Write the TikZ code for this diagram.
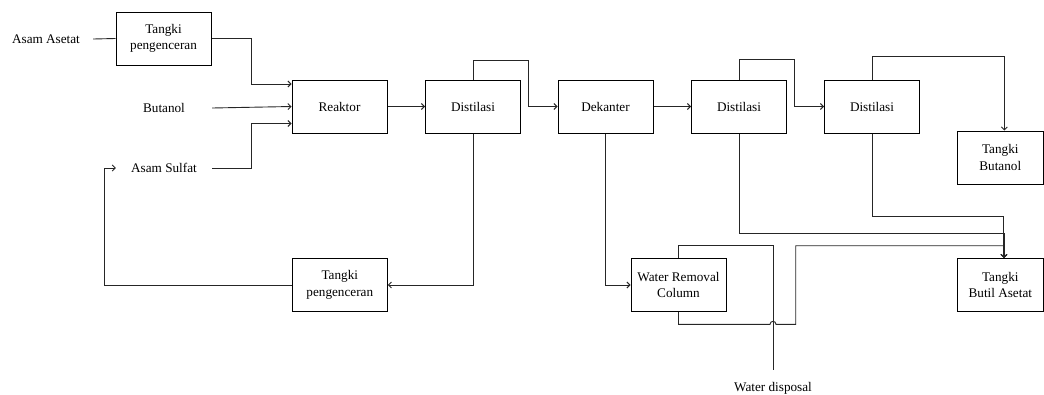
\documentclass[tikz,border=0pt]{standalone}
\usepackage{fontspec}
\setmainfont{Liberation Serif}
\usetikzlibrary{arrows.meta}
\begin{document}
\begin{tikzpicture}[x=1pt,y=-1pt,
  font=\fontsize{13.2}{16.5}\selectfont,
  box/.style={draw=black, line width=1pt, rectangle, minimum width=95pt, minimum height=53pt, align=center, inner sep=1pt},
  lbl/.style={inner sep=0pt, align=center},
  ln/.style={draw=black!85, line width=0.9pt},
  arr/.style={ln, -{Straight Barb[length=3pt,width=6pt]}}]
\useasboundingbox (0,0) rectangle (1044,394);
% nodes
\node[lbl, minimum width=94pt] (AA) at (46,39) {Asam Asetat};
\node[lbl, minimum width=96pt] (Bu) at (164,108) {Butanol};
\node[lbl, minimum width=96pt] (AS) at (164,168) {Asam Sulfat};
\node[box] (T1) at (163.5,38.5) {Tangki\\pengenceran};
\node[box] (R) at (339.5,106.5) {Reaktor};
\node[box] (D1) at (473,106.5) {Distilasi};
\node[box] (Dek) at (605.5,106.5) {Dekanter};
\node[box] (D2) at (739,106.5) {Distilasi};
\node[box] (D3) at (872,106.5) {Distilasi};
\node[box, minimum width=86pt] (TBu) at (1000.3,157.5) {Tangki\\Butanol};
\node[box, minimum width=86pt] (TBA) at (1000.3,285) {Tangki\\Butil Asetat};
\node[box] (WRC) at (678.5,285) {Water Removal\\Column};
\node[box] (T2) at (339.8,285) {Tangki\\pengenceran};
\node[lbl] (WD) at (773,388) {Water disposal};
\coordinate (wdtop) at (773,370);
% connectors
\draw[ln] (AA.east) -- (T1.west);
\draw[arr] (T1.east) -- (251,38.5) |- ([yshift=22.5pt]R.west);
\draw[arr] (Bu.east) -- (R.west);
\draw[arr] (AS.east) -- (251,168) |- ([yshift=-17pt]R.west);
\draw[arr] (R.east) -- (D1.west);
\draw[arr] (D1.north) -- (473,60) -| (528.3,106.5) -- (Dek.west);
\draw[arr] (Dek.east) -- (D2.west);
\draw[arr] (D2.north) -- (739,59) -| (794.3,106.5) -- (D3.west);
\draw[arr] (D3.north) -- (872,56.7) -| ([xshift=4pt]TBu.north);
\draw[arr] (D3.south) -- (872,216) -| ([xshift=3.5pt]TBA.north);
\draw[arr] (D2.south) -- (739,233.3) -| ([xshift=3.7pt]TBA.north);
\draw[arr] (Dek.south) |- (WRC.west);
\draw[ln] (WRC.north) -- (678.5,245) -| (wdtop);
\draw[arr] (WRC.south) -- (678.5,324.3) -- (770,324.3) arc[start angle=180,end angle=0,radius=3pt] -- (795.7,324.3) -- (795.7,245.7) -| ([xshift=3.7pt]TBA.north);
\draw[arr] (D1.south) |- (T2.east);
\draw[arr] (T2.west) -- (104.7,285) |- (AS.west);
\end{tikzpicture}
\end{document}
